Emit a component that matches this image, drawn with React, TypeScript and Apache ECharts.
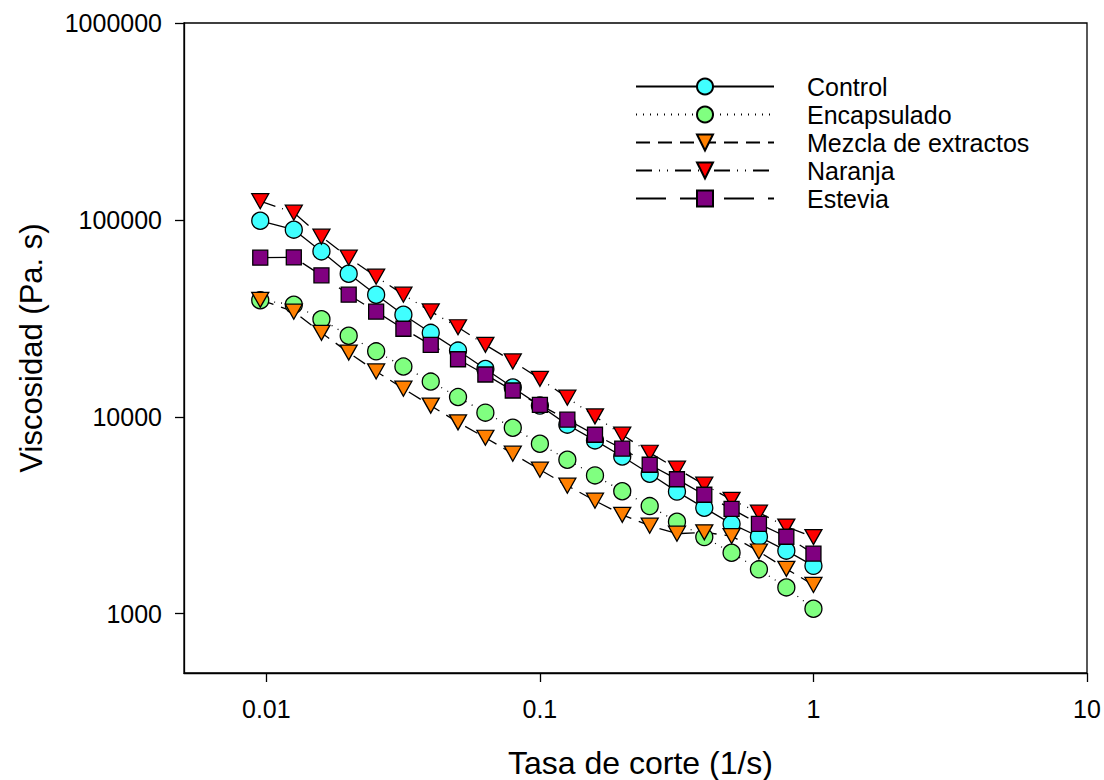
import React, { useEffect, useRef } from "react";
import * as echarts from "echarts";

// Shear rate (1/s)
const shearRate = [
  0.0095, 0.0126, 0.0159, 0.02, 0.0252, 0.0317, 0.0399, 0.0502, 0.0632, 0.0796,
  0.1, 0.126, 0.159, 0.2, 0.252, 0.317, 0.399, 0.502, 0.632, 0.796, 1.0,
];

// Viscosity (Pa. s) per formulation
const control = [
  99000, 89200, 69200, 53300, 41700, 33000, 26700, 21700, 17500, 14100, 11400,
  9120, 7590, 6290, 5140, 4170, 3450, 2860, 2460, 2090, 1750,
];
const encapsulado = [
  39100, 37100, 31300, 25800, 21500, 18000, 15100, 12600, 10500, 8800, 7300,
  6050, 5040, 4190, 3520, 2930, 2450, 2040, 1680, 1360, 1060,
];
const mezcla = [
  39300, 34200, 26700, 21200, 17000, 13900, 11400, 9370, 7830, 6500, 5390,
  4470, 3750, 3180, 2800, 2550, 2590, 2480, 2070, 1690, 1400,
];
const naranja = [
  124500, 108800, 82200, 64300, 51500, 41700, 34300, 28500, 23200, 19100, 15600,
  12500, 10050, 8110, 6570, 5450, 4520, 3790, 3260, 2770, 2450,
];
const estevia = [
  64300, 64500, 52300, 41700, 34200, 28000, 23200, 19600, 16400, 13600, 11500,
  9670, 8110, 6890, 5710, 4820, 4020, 3410, 2860, 2460, 2020,
];

const xTickValues = [0.01, 0.1, 1, 10];
const xTickLabels = ["0.01", "0.1", "1", "10"];
const yTickValues = [1000, 10000, 100000, 1000000];
const yTickLabels = ["1000", "10000", "100000", "1000000"];

const FONT = "'Liberation Sans', Arial, sans-serif";

function decadeLabel(values: number[], labels: string[]) {
  return (v: number) => {
    const i = values.findIndex(
      (t) => Math.abs(Math.log10(v) - Math.log10(t)) < 1e-6
    );
    return i >= 0 ? labels[i] : "";
  };
}

type SeriesDef = {
  name: string;
  values: number[];
  symbol: string;
  size: number | number[];
  rotate: number;
  fill: string;
  dash: "solid" | number[];
};

const seriesDefs: SeriesDef[] = [
  { name: "Control", values: control, symbol: "circle", size: 17, rotate: 0, fill: "#40ffff", dash: "solid" },
  { name: "Encapsulado", values: encapsulado, symbol: "circle", size: 17, rotate: 0, fill: "#80ff80", dash: [1, 6] },
  { name: "Mezcla de extractos", values: mezcla, symbol: "triangle", size: [17, 15], rotate: 180, fill: "#ff8000", dash: [14, 8] },
  { name: "Naranja", values: naranja, symbol: "triangle", size: [17, 15], rotate: 180, fill: "#ff0000", dash: [16, 7, 1, 7, 1, 7] },
  { name: "Estevia", values: estevia, symbol: "rect", size: 15, rotate: 0, fill: "#800080", dash: [30, 14] },
];

export default function App() {
  const ref = useRef<HTMLDivElement>(null);

  useEffect(() => {
    if (!ref.current) return;
    const chart = echarts.init(ref.current, null, { renderer: "svg" });

    const axisColor = "#000";

    chart.setOption({
      animation: false,
      backgroundColor: "#ffffff",
      textStyle: { fontFamily: FONT },
      grid: {
        left: 184,
        top: 23,
        width: 903,
        height: 650,
        show: true,
        borderColor: axisColor,
        borderWidth: 1.3,
        outerBoundsMode: "none",
      },
      legend: {
        orient: "vertical",
        left: 635,
        top: 74,
        padding: 0,
        itemWidth: 138,
        itemHeight: 20,
        itemGap: 3,
        selectedMode: false,
        textStyle: {
          fontFamily: FONT,
          fontSize: 25,
          lineHeight: 25,
          color: "#000",
          padding: [0, 0, 0, 28],
        },
        data: seriesDefs.map((s) => s.name),
      },
      xAxis: {
        type: "log",
        logBase: 10,
        min: 0.005,
        max: 10,
        name: "Tasa de corte (1/s)",
        nameLocation: "middle",
        nameGap: 74,
        nameTextStyle: {
          fontFamily: FONT,
          fontSize: 32,
          color: "#000",
          padding: [0, 0, 0, 10],
        },
        axisLine: { show: true, lineStyle: { color: axisColor, width: 1.3 } },
        axisTick: {
          show: true,
          inside: false,
          length: 9,
          customValues: xTickValues,
          lineStyle: { color: axisColor, width: 1.3 },
        },
        minorTick: { show: false },
        splitLine: { show: false },
        axisLabel: {
          customValues: xTickValues,
          formatter: decadeLabel(xTickValues, xTickLabels),
          fontFamily: FONT,
          fontSize: 25,
          color: "#000",
          margin: 23,
        },
      },
      yAxis: {
        type: "log",
        logBase: 10,
        min: 500,
        max: 1000000,
        name: "Viscosidad (Pa. s)",
        nameLocation: "middle",
        nameGap: 137,
        nameTextStyle: { fontFamily: FONT, fontSize: 31, color: "#000" },
        axisLine: { show: true, lineStyle: { color: axisColor, width: 1.3 } },
        axisTick: {
          show: true,
          inside: false,
          length: 9,
          customValues: yTickValues,
          lineStyle: { color: axisColor, width: 1.3 },
        },
        minorTick: { show: false },
        splitLine: { show: false },
        axisLabel: {
          customValues: yTickValues,
          formatter: decadeLabel(yTickValues, yTickLabels),
          fontFamily: FONT,
          fontSize: 25,
          color: "#000",
          margin: 22,
        },
      },
      series: seriesDefs.map((s) => ({
        name: s.name,
        type: "line",
        data: shearRate.map((x, i) => [x, s.values[i]]),
        symbol: s.symbol,
        symbolSize: s.size,
        symbolRotate: s.rotate,
        showAllSymbol: true,
        itemStyle: { color: s.fill, borderColor: "#000", borderWidth: 1.3 },
        lineStyle: { color: "#000", width: 1.3, type: s.dash },
        emphasis: { disabled: true },
      })),
    });

    return () => chart.dispose();
  }, []);

  return (
    <div
      ref={ref}
      style={{ position: "fixed", left: 0, top: 0, width: 1104, height: 780 }}
    />
  );
}
